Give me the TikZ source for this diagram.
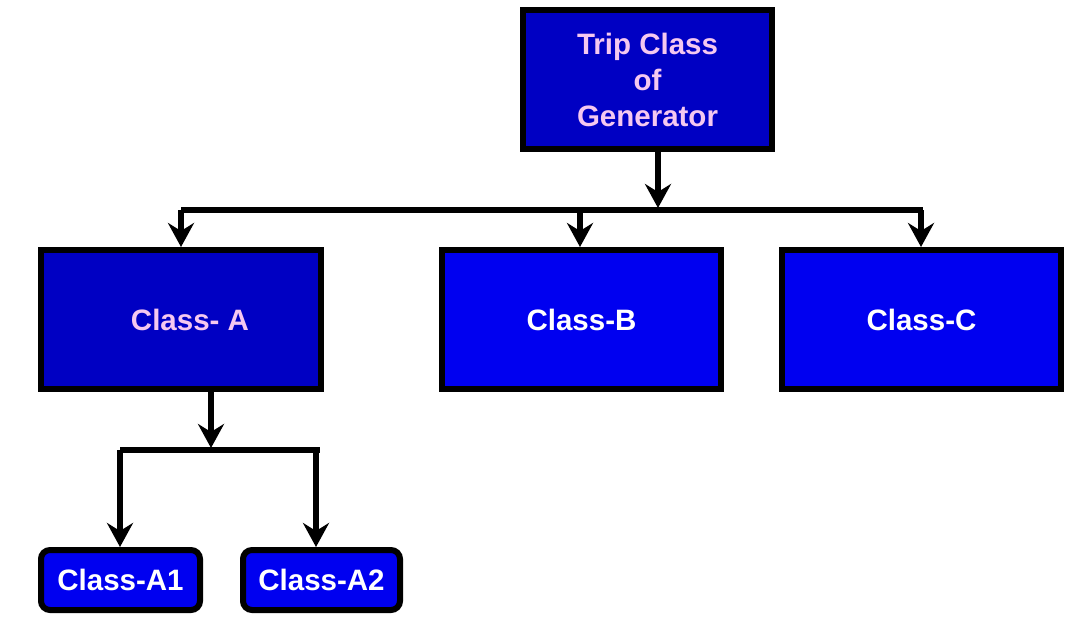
\documentclass[tikz,border=0pt]{standalone}
\usepackage{fontspec}
\setmainfont{Liberation Sans}
\usetikzlibrary{arrows.meta}
\definecolor{darkbox}{RGB}{0,0,195}
\definecolor{brightbox}{RGB}{0,0,240}
\definecolor{pinktext}{RGB}{245,200,240}
\tikzset{
  box/.style={draw=black, line width=6pt, inner sep=0pt, align=center,
    font=\fontsize{29.5}{36}\selectfont\bfseries},
  darkbx/.style={box, fill=darkbox, text=pinktext},
  brightbx/.style={box, fill=brightbox, text=white},
  conn/.style={line width=5.5pt, draw=black},
  arr/.style={conn, -{Stealth[length=24pt,width=26pt,inset=8pt]}},
}
\begin{document}
\begin{tikzpicture}[x=1pt,y=-1pt]
\useasboundingbox (0,0) rectangle (1076,627);
\fill[white] (0,0) rectangle (1076,627);
% boxes
\node[darkbx, minimum width=249pt, minimum height=139pt] (trip) at (647.5,79.5) {Trip Class\\of\\Generator};
\node[darkbx, minimum width=280pt, minimum height=139pt] (classA) at (181,319.5) {\hspace*{18pt}Class- A};
\node[brightbx, minimum width=279pt, minimum height=139pt] (classB) at (581.5,319.5) {Class-B};
\node[brightbx, minimum width=279pt, minimum height=139pt] (classC) at (921.5,319.5) {Class-C};
\node[brightbx, rounded corners=9pt, minimum width=159pt, minimum height=60pt] (classA1) at (120.5,580) {Class-A1};
\node[brightbx, rounded corners=9pt, minimum width=157pt, minimum height=60pt] (classA2) at (321.5,580) {Class-A2};
% upper bus
\coordinate (tripTip) at (658,208);
\coordinate (busL) at (181,210);
\coordinate (busB) at (580,210);
\coordinate (busR) at (921,210);
\coordinate (busEnd) at (923,210);
\draw[arr] (trip.south -| tripTip) -- (tripTip);
\draw[conn] (busL) -- (busEnd);
\draw[arr] (busL) -- (classA.north);
\draw[arr] (busB) -- (busB |- classB.north);
\draw[arr] (busR) -- (busR |- classC.north);
% lower bus
\coordinate (aTip) at (211,448);
\coordinate (lbusL) at (120,450);
\coordinate (lbusR) at (316,450);
\coordinate (lbusEnd) at (320,450);
\draw[arr] (classA.south -| aTip) -- (aTip);
\draw[conn] (lbusL) -- (lbusEnd);
\draw[arr] (lbusL) -- (lbusL |- classA1.north);
\draw[arr] (lbusR) -- (lbusR |- classA2.north);
\end{tikzpicture}
\end{document}
